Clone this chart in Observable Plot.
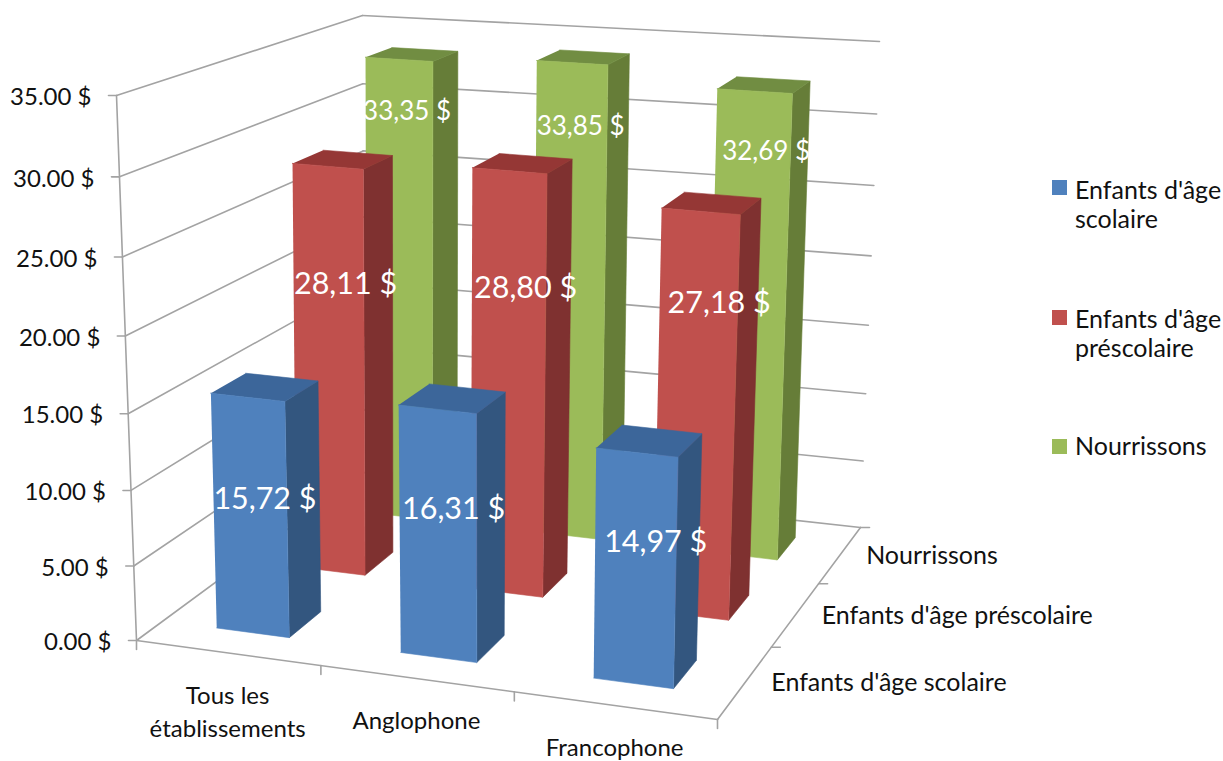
<!DOCTYPE html>
<html lang="fr">
<head>
<meta charset="utf-8">
<script src="https://cdn.jsdelivr.net/npm/d3@7"></script>
<script src="https://cdn.jsdelivr.net/npm/@observablehq/plot@0.6"></script>
<style>
html,body{margin:0;padding:0;background:#fff;overflow:hidden}
#wrap{position:relative;width:1223px;height:761px}
#legend{position:absolute;left:1052px;top:0;font:25px/29px Lato,sans-serif;color:#111}
.item{position:absolute;left:23px;width:148px;white-space:nowrap}
.sw{position:absolute;left:0;width:15px;height:15px}
</style>
</head>
<body>
<div id="wrap"><div id="chart"></div><div id="legend"></div></div>
<script>
// Data
const categories = ["Tous les\nétablissements", "Anglophone", "Francophone"];
const seriesNames = ["Enfants d'âge scolaire", "Enfants d'âge préscolaire", "Nourrissons"];
const scolaire = [15.72, 16.31, 14.97];
const prescolaire = [28.11, 28.80, 27.18];
const nourrissons = [33.35, 33.85, 32.69];
const seriesValues = [scolaire, prescolaire, nourrissons];
const ticks = [0, 5, 10, 15, 20, 25, 30, 35];
// height (in $) at which each data label sits on its bar
const labelLevelScolaire = [8.25, 9.05, 8.4];
const labelLevelPrescolaire = [19.6, 20.45, 20.6];
const labelLevelNourrissons = [29.3, 29, 28.1];
const labelLevels = [labelLevelScolaire, labelLevelPrescolaire, labelLevelNourrissons];

// Layout and styles
const labelNudge = [[-2, 1, 8], [2, 4, 10], [-5, -2, 4]];
const faceColors = [
  {front:"#4F81BD", side:"#33567F", top:"#3C669A"},
  {front:"#C0504D", side:"#7F3130", top:"#953735"},
  {front:"#9BBB59", side:"#667D38", top:"#718D42"}
];
const legendTops = [175, 304, 431];
const swatchTops = [180, 310, 439];
const legendLabels = ["Enfants d'âge<br>scolaire", "Enfants d'âge<br>préscolaire", "Nourrissons"];
const labelSizes = [30.5, 30.5, 26];

// 3D view: a box seen in perspective, described by its floor and ceiling corners
function homography([p0, p1, p2, p3]) {
  const [x0,y0]=p0,[x1,y1]=p1,[x2,y2]=p2,[x3,y3]=p3;
  const dx1=x1-x2,dx2=x3-x2,sx=x0-x1+x2-x3,dy1=y1-y2,dy2=y3-y2,sy=y0-y1+y2-y3;
  const det=dx1*dy2-dx2*dy1;
  const g=(sx*dy2-dx2*sy)/det,h=(dx1*sy-sx*dy1)/det;
  const a=x1-x0+g*x1,b=x3-x0+h*x3,d=y1-y0+g*y1,e=y3-y0+h*y3;
  return (u,v)=>{const w=g*u+h*v+1;return [(a*u+b*v+x0)/w,(d*u+e*v+y0)/w];};
}
function bilinear([p0,p1,p2,p3],kv,ku){
  return (u,v)=>{
    const w=kv*v/(1+(kv-1)*v), q=ku*u/(1+(ku-1)*u);
    const lx=p0[0]+(p3[0]-p0[0])*w, ly=p0[1]+(p3[1]-p0[1])*w;
    const rx=p1[0]+(p2[0]-p1[0])*w, ry=p1[1]+(p2[1]-p1[1])*w;
    return [lx+(rx-lx)*q, ly+(ry-ly)*q];
  };
}
const floorAt = homography([[136,640],[717,719],[860,527],[364,472]]);
const ceilAt = bilinear([[116,95],[730,150],[879,41],[362,15]],1.3,0.92);
const vMax = 35, persp = 0.95;
function P(u,v,val){
  const t=val/vMax, s=persp*t/(1-t+persp*t);
  const [bx,by]=floorAt(u,v),[tx,ty]=ceilAt(u,v);
  return {x:bx+(tx-bx)*s,y:by+(ty-by)*s};
}

// Faces of each bar, from back row to front row
const barFrac = 0.4;
const faces=[];
let fid=0;
function face(color,pts){const id=fid++;pts.forEach(p=>faces.push({...p,id,color}));}
for(let s=seriesNames.length-1;s>=0;s--){
  categories.forEach((c,i)=>{
    const val=seriesValues[s][i];
    const u0=(i+0.5-barFrac/2)/3,u1=(i+0.5+barFrac/2)/3,v0=(s+0.5-barFrac/2)/3,v1=(s+0.5+barFrac/2)/3;
    const col=faceColors[s];
    face(col.side,[P(u1,v0,0),P(u1,v1,0),P(u1,v1,val),P(u1,v0,val)]);
    face(col.top,[P(u0,v0,val),P(u1,v0,val),P(u1,v1,val),P(u0,v1,val)]);
    face(col.front,[P(u0,v0,0),P(u1,v0,0),P(u1,v0,val),P(u0,v0,val)]);
  });
}

// Grid and axis lines
const grid=[];
let gid=0;
function seg(a,b){const id=gid++;grid.push({...a,id},{...b,id});}
ticks.forEach(t=>{
  seg(P(0,0,t),P(0,1,t));
  seg(P(0,1,t),P(1,1,t));
});
seg(P(0,0,0),P(0,0,vMax));
seg(P(0,0,0),P(1,0,0));
seg(P(1,0,0),P(1,1,0));

const tickSegs=[];
let tid=0;
function tick(a,dx,dy){const id=tid++;tickSegs.push({...a,id},{x:a.x+dx,y:a.y+dy,id});}
ticks.forEach(t=>tick(P(0,0,t),-8,0));
[0,1,2,3].forEach(i=>tick(P(i/3,0,0),0,9));
[1,2,3].forEach(i=>tick(P(1,i/3,0),9,0));

const yLabels=ticks.map(t=>({...P(0,0,t),text:t.toFixed(2)+" $"}));
const catLabels=categories.map((c,i)=>({...P((i+0.5)/3,0,0),text:c}));
const depthLabels=seriesNames.map((n,s)=>({...P(1,(s+0.5)/3,0),text:n}));
const dataLabels=[];
seriesNames.forEach((n,s)=>categories.forEach((c,i)=>{
  const p=P((i+0.5)/3,(s+0.5)/3,labelLevels[s][i]);
  dataLabels.push({x:p.x+labelNudge[s][i],y:p.y,s,text:seriesValues[s][i].toFixed(2).replace(".",",")+" $"});
}));

const FONT="Lato, sans-serif";
const chart=Plot.plot({
  width:1223,height:761,margin:0,
  x:{domain:[0,1223],range:[0,1223],axis:null},
  y:{domain:[0,761],range:[0,761],axis:null},
  color:{type:"identity"},
  style:{background:"#fff"},
  marks:[
    Plot.line(grid,{x:"x",y:"y",z:"id",stroke:"#A3A3A3",strokeWidth:1.6}),
    Plot.line(tickSegs,{x:"x",y:"y",z:"id",stroke:"#A3A3A3",strokeWidth:1.6}),
    Plot.line(faces,{x:"x",y:"y",z:"id",fill:"color",stroke:"color",strokeWidth:0.6}),
    Plot.text(yLabels,{x:"x",y:"y",text:"text",textAnchor:"end",dx:-25,dy:2,fontSize:24,fontFamily:FONT,fill:"#111"}),
    Plot.text(catLabels,{x:"x",y:"y",text:"text",lineAnchor:"top",dy:27,lineHeight:1.4,fontSize:24,fontFamily:FONT,fill:"#111"}),
    Plot.text(depthLabels,{x:"x",y:"y",text:"text",textAnchor:"start",dx:26,dy:1,fontSize:25,fontFamily:FONT,fill:"#111"}),
    ...[0,1,2].map(s=>Plot.text(dataLabels.filter(d=>d.s===s),{x:"x",y:"y",text:"text",fontSize:labelSizes[s],fontFamily:FONT,fill:"#fff"}))
  ]
});
document.getElementById("chart").appendChild(chart);

const legend=d3.select("#legend");
legendLabels.forEach((t,s)=>{
  legend.append("span").attr("class","sw").style("top",swatchTops[s]+"px").style("background",faceColors[s].front);
  legend.append("div").attr("class","item").style("top",legendTops[s]+"px").html(t);
});
</script>
</body>
</html>
